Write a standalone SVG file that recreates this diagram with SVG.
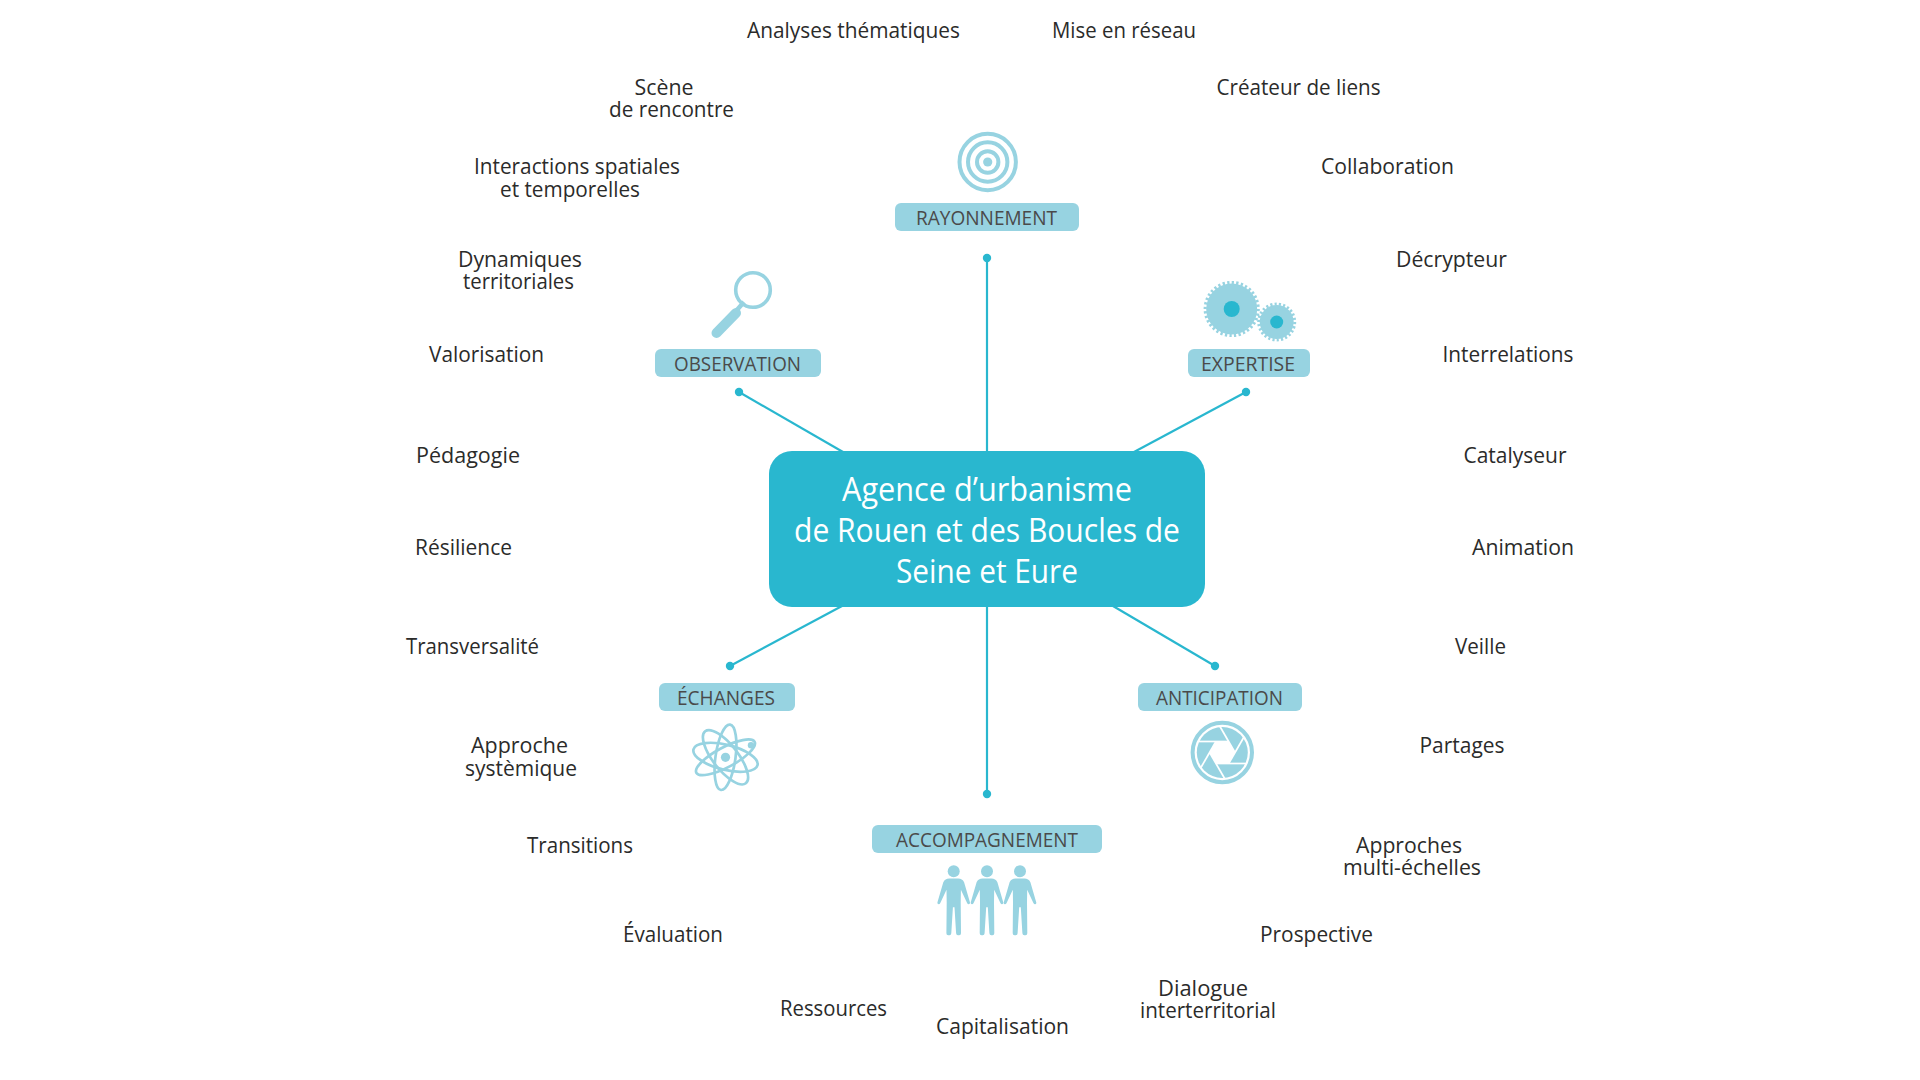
<svg xmlns="http://www.w3.org/2000/svg" width="1920" height="1080" viewBox="0 0 1920 1080">
<style>
text{font-family:"Open Sans","Noto Sans","Liberation Sans",sans-serif}
.lbl{font-size:21px;fill:#2b2b2a}
.bt{font-size:19.5px;fill:#4a4a4a}
.ct{font-size:32.5px;fill:#fff}
.badge{fill:#97d3e1;rx:6px;ry:6px}
.con{stroke:#29b7cf;stroke-width:2.2;fill:none}
.dot{fill:#29b7cf}
.ic{fill:#97d3e1}
.ring{fill:none;stroke:#97d3e1}
.wl{stroke:#fff;stroke-width:1.7}
</style>
<rect width="1920" height="1080" fill="#fff"/>
<g id="connectors">
<line class="con" x1="987" y1="258" x2="987" y2="452"/><circle class="dot" cx="987" cy="258" r="4.2"/>
<line class="con" x1="739" y1="392" x2="843" y2="452"/><circle class="dot" cx="739" cy="392" r="4.2"/>
<line class="con" x1="1246" y1="392" x2="1134" y2="452"/><circle class="dot" cx="1246" cy="392" r="4.2"/>
<line class="con" x1="730" y1="666" x2="842" y2="606"/><circle class="dot" cx="730" cy="666" r="4.2"/>
<line class="con" x1="1215" y1="666" x2="1113" y2="606"/><circle class="dot" cx="1215" cy="666" r="4.2"/>
<line class="con" x1="987" y1="794" x2="987" y2="606"/><circle class="dot" cx="987" cy="794" r="4.2"/>
</g>
<g id="center">
<rect x="769" y="451" width="436" height="156" rx="23" fill="#29b7cf"/>
<text class="ct" x="842" y="501" textLength="290" lengthAdjust="spacingAndGlyphs">Agence d’urbanisme</text>
<text class="ct" x="794" y="542" textLength="386" lengthAdjust="spacingAndGlyphs">de Rouen et des Boucles de</text>
<text class="ct" x="896" y="583" textLength="182" lengthAdjust="spacingAndGlyphs">Seine et Eure</text>
</g>
<g id="rayonnement">
<circle class="ring" cx="987.7" cy="162" r="28.2" stroke-width="4"/>
<circle class="ring" cx="987.7" cy="162" r="19.7" stroke-width="4"/>
<circle class="ring" cx="987.7" cy="162" r="10.7" stroke-width="4"/>
<circle class="ic" cx="987.7" cy="162" r="4.6"/>
<rect class="badge" x="895" y="203" width="184" height="28"/>
<text class="bt" x="916" y="225" textLength="141" lengthAdjust="spacingAndGlyphs">RAYONNEMENT</text>
</g>
<g id="observation">
<circle class="ring" cx="753" cy="290" r="17.3" stroke-width="3.6"/>
<line x1="744" y1="302" x2="736" y2="311" stroke="#97d3e1" stroke-width="4.5"/>
<line x1="736" y1="313" x2="716.5" y2="333" stroke="#97d3e1" stroke-width="10" stroke-linecap="round"/>
<rect class="badge" x="655" y="349" width="166" height="28"/>
<text class="bt" x="674" y="371" textLength="127" lengthAdjust="spacingAndGlyphs">OBSERVATION</text>
</g>
<g id="expertise">
<circle class="ic" cx="1231.7" cy="309" r="25.5"/>
<circle class="ring" cx="1231.7" cy="309" r="26.5" stroke-width="3.2" pathLength="72" stroke-dasharray="1 1"/>
<circle class="dot" cx="1231.7" cy="309" r="8"/>
<circle class="ic" cx="1276.7" cy="322" r="17"/>
<circle class="ring" cx="1276.7" cy="322" r="18" stroke-width="3" pathLength="52" stroke-dasharray="1 1"/>
<circle class="dot" cx="1276.7" cy="322" r="6.5"/>
<rect class="badge" x="1188" y="349" width="122" height="28"/>
<text class="bt" x="1201" y="371" textLength="94" lengthAdjust="spacingAndGlyphs">EXPERTISE</text>
</g>
<g id="echanges">
<rect class="badge" x="659" y="683" width="136" height="28"/>
<text class="bt" x="677" y="705" textLength="98" lengthAdjust="spacingAndGlyphs">ÉCHANGES</text>
<g transform="translate(725.5 757.3)">
<ellipse class="ring" rx="33" ry="12.5" stroke-width="2.7" transform="rotate(14)"/>
<ellipse class="ring" rx="33" ry="12.5" stroke-width="2.7" transform="rotate(52)"/>
<ellipse class="ring" rx="33" ry="10" stroke-width="2.7" transform="rotate(98)"/>
<ellipse class="ring" rx="33" ry="10" stroke-width="2.7" transform="rotate(-28)"/>
<circle r="7.5" fill="#fff"/>
<circle class="ic" r="4.6"/>
<circle class="ic" cx="25.5" cy="-12" r="3.2"/>
</g>
</g>
<g id="anticipation">
<rect class="badge" x="1138" y="683" width="164" height="28"/>
<text class="bt" x="1156" y="705" textLength="127" lengthAdjust="spacingAndGlyphs">ANTICIPATION</text>
<g transform="translate(1222.3 752.5)">
<circle class="ring" r="29.7" stroke-width="4"/>
<circle class="ic" r="25.5"/>
<g class="wl">
<line x1="6.3" y1="-11" x2="-24" y2="-11"/>
<line x1="6.3" y1="-11" x2="-24" y2="-11" transform="rotate(60)"/>
<line x1="6.3" y1="-11" x2="-24" y2="-11" transform="rotate(120)"/>
<line x1="6.3" y1="-11" x2="-24" y2="-11" transform="rotate(180)"/>
<line x1="6.3" y1="-11" x2="-24" y2="-11" transform="rotate(240)"/>
<line x1="6.3" y1="-11" x2="-24" y2="-11" transform="rotate(300)"/>
</g>
<polygon points="6.3,-11 12.7,0 6.3,11 -6.3,11 -12.7,0 -6.3,-11" fill="#fff"/>
</g>
</g>
<g id="accompagnement">
<rect class="badge" x="872" y="825" width="230" height="28"/>
<text class="bt" x="896" y="847" textLength="182" lengthAdjust="spacingAndGlyphs">ACCOMPAGNEMENT</text>
<defs><g id="person">
<circle class="ic" cy="0" r="6"/>
<path class="ic" d="M-4.5 7.3H4.5Q8.6 7.3 10.4 11L16.3 31.3Q16.5 33 15 33Q14 33 13.4 31.8L7.2 18.5L7 31L7.3 62Q7.3 64 5.5 64H4.2Q2.6 64 2.4 62L0.8 36H-0.8L-2.4 62Q-2.6 64 -4.2 64H-5.5Q-7.3 64 -7.3 62L-7 31L-7.2 18.5L-13.4 31.8Q-14 33 -15 33Q-16.5 33 -16.3 31.3L-10.4 11Q-8.6 7.3 -4.5 7.3Z"/>
</g></defs>
<use href="#person" x="953.7" y="871.3"/>
<use href="#person" x="987" y="871.3"/>
<use href="#person" x="1020" y="871.3"/>
</g>
<g id="labels" class="lbl">
<text x="747" y="38" textLength="213" lengthAdjust="spacingAndGlyphs">Analyses thématiques</text>
<text x="1052" y="38" textLength="144" lengthAdjust="spacingAndGlyphs">Mise en réseau</text>
<text x="634.5" y="95" textLength="59" lengthAdjust="spacingAndGlyphs">Scène</text>
<text x="609" y="117" textLength="125" lengthAdjust="spacingAndGlyphs">de rencontre</text>
<text x="1216.5" y="95" textLength="164" lengthAdjust="spacingAndGlyphs">Créateur de liens</text>
<text x="474" y="174" textLength="206" lengthAdjust="spacingAndGlyphs">Interactions spatiales</text>
<text x="500" y="196.5" textLength="140" lengthAdjust="spacingAndGlyphs">et temporelles</text>
<text x="1321" y="174" textLength="133" lengthAdjust="spacingAndGlyphs">Collaboration</text>
<text x="458" y="267" textLength="124" lengthAdjust="spacingAndGlyphs">Dynamiques</text>
<text x="463" y="289" textLength="111" lengthAdjust="spacingAndGlyphs">territoriales</text>
<text x="1396" y="267" textLength="111" lengthAdjust="spacingAndGlyphs">Décrypteur</text>
<text x="429" y="362" textLength="115" lengthAdjust="spacingAndGlyphs">Valorisation</text>
<text x="1442.5" y="362" textLength="131" lengthAdjust="spacingAndGlyphs">Interrelations</text>
<text x="416" y="463" textLength="104" lengthAdjust="spacingAndGlyphs">Pédagogie</text>
<text x="1463.5" y="463" textLength="103" lengthAdjust="spacingAndGlyphs">Catalyseur</text>
<text x="415" y="555" textLength="97" lengthAdjust="spacingAndGlyphs">Résilience</text>
<text x="1472" y="555" textLength="102" lengthAdjust="spacingAndGlyphs">Animation</text>
<text x="406" y="654" textLength="133" lengthAdjust="spacingAndGlyphs">Transversalité</text>
<text x="1455" y="654" textLength="51" lengthAdjust="spacingAndGlyphs">Veille</text>
<text x="471" y="753" textLength="97" lengthAdjust="spacingAndGlyphs">Approche</text>
<text x="465" y="776" textLength="112" lengthAdjust="spacingAndGlyphs">systèmique</text>
<text x="1419.5" y="753" textLength="85" lengthAdjust="spacingAndGlyphs">Partages</text>
<text x="527" y="853" textLength="106" lengthAdjust="spacingAndGlyphs">Transitions</text>
<text x="1356" y="853" textLength="106" lengthAdjust="spacingAndGlyphs">Approches</text>
<text x="1343" y="875" textLength="138" lengthAdjust="spacingAndGlyphs">multi-échelles</text>
<text x="623" y="942" textLength="100" lengthAdjust="spacingAndGlyphs">Évaluation</text>
<text x="1260" y="942" textLength="113" lengthAdjust="spacingAndGlyphs">Prospective</text>
<text x="780" y="1015.5" textLength="107" lengthAdjust="spacingAndGlyphs">Ressources</text>
<text x="936" y="1033.5" textLength="133" lengthAdjust="spacingAndGlyphs">Capitalisation</text>
<text x="1158" y="996" textLength="90" lengthAdjust="spacingAndGlyphs">Dialogue</text>
<text x="1140" y="1018" textLength="136" lengthAdjust="spacingAndGlyphs">interterritorial</text>
</g>
</svg>
